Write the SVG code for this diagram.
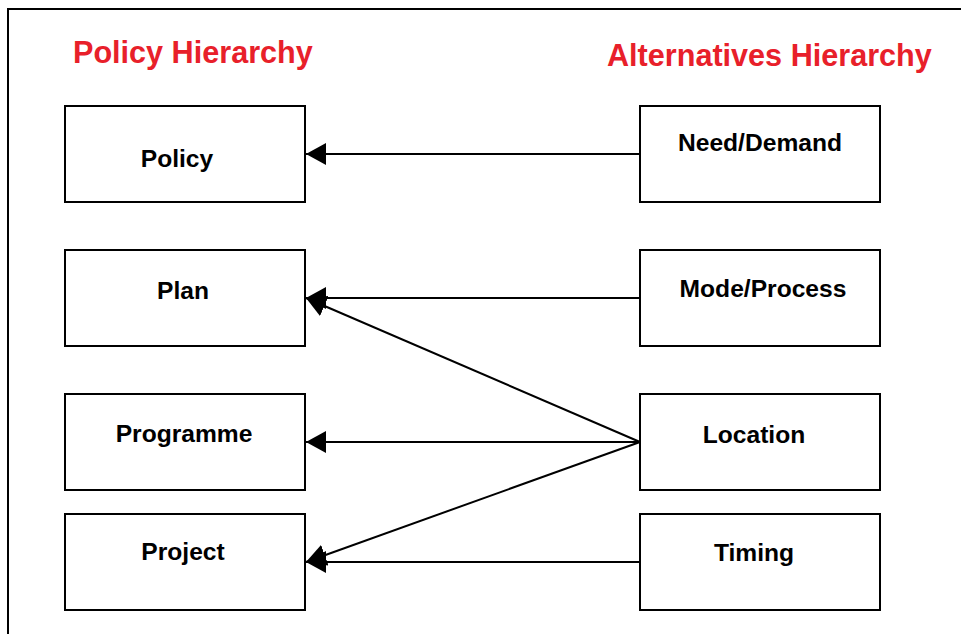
<svg xmlns="http://www.w3.org/2000/svg" width="961" height="634" viewBox="0 0 961 634">
  <style>
    .frame { fill: none; stroke: #000; stroke-width: 2; }
    .box { fill: #fff; stroke: #000; stroke-width: 2; }
    .label { font-family: "Liberation Sans", Arial, sans-serif; font-weight: bold; font-size: 24.6px; fill: #000; text-anchor: middle; }
    .heading { font-family: "Liberation Sans", Arial, sans-serif; font-weight: bold; font-size: 30.6px; fill: #e8202a; }
    .link { fill: none; stroke: #000; stroke-width: 2; marker-end: url(#head); }
  </style>
  <defs>
    <marker id="head" viewBox="0 0 20 22" refX="20" refY="11" markerWidth="20" markerHeight="22" markerUnits="userSpaceOnUse" orient="auto">
      <path d="M20,11 L0,0 L0,22 Z" fill="#000"/>
    </marker>
  </defs>

  <rect width="961" height="634" fill="#fff"/>
  <rect class="frame" x="8" y="9" width="960" height="640"/>

  <text class="heading" x="73" y="63">Policy Hierarchy</text>
  <text class="heading" x="607" y="66">Alternatives Hierarchy</text>

  <g id="connectors">
    <line class="link" x1="640" y1="154" x2="306" y2="154"/>
    <line class="link" x1="640" y1="298" x2="306" y2="298"/>
    <line class="link" x1="640" y1="442" x2="306" y2="298"/>
    <line class="link" x1="640" y1="442" x2="306" y2="442"/>
    <line class="link" x1="640" y1="442" x2="306" y2="562"/>
    <line class="link" x1="640" y1="562" x2="306" y2="562"/>
  </g>

  <g id="policy">
    <rect class="box" x="65" y="106" width="240" height="96"/>
    <text class="label" x="177" y="167">Policy</text>
  </g>
  <g id="plan">
    <rect class="box" x="65" y="250" width="240" height="96"/>
    <text class="label" x="183" y="299">Plan</text>
  </g>
  <g id="programme">
    <rect class="box" x="65" y="394" width="240" height="96"/>
    <text class="label" x="184" y="442">Programme</text>
  </g>
  <g id="project">
    <rect class="box" x="65" y="514" width="240" height="96"/>
    <text class="label" x="183" y="560">Project</text>
  </g>

  <g id="need-demand">
    <rect class="box" x="640" y="106" width="240" height="96"/>
    <text class="label" x="760" y="151">Need/Demand</text>
  </g>
  <g id="mode-process">
    <rect class="box" x="640" y="250" width="240" height="96"/>
    <text class="label" x="763" y="297">Mode/Process</text>
  </g>
  <g id="location">
    <rect class="box" x="640" y="394" width="240" height="96"/>
    <text class="label" x="754" y="443">Location</text>
  </g>
  <g id="timing">
    <rect class="box" x="640" y="514" width="240" height="96"/>
    <text class="label" x="754" y="561">Timing</text>
  </g>
</svg>
